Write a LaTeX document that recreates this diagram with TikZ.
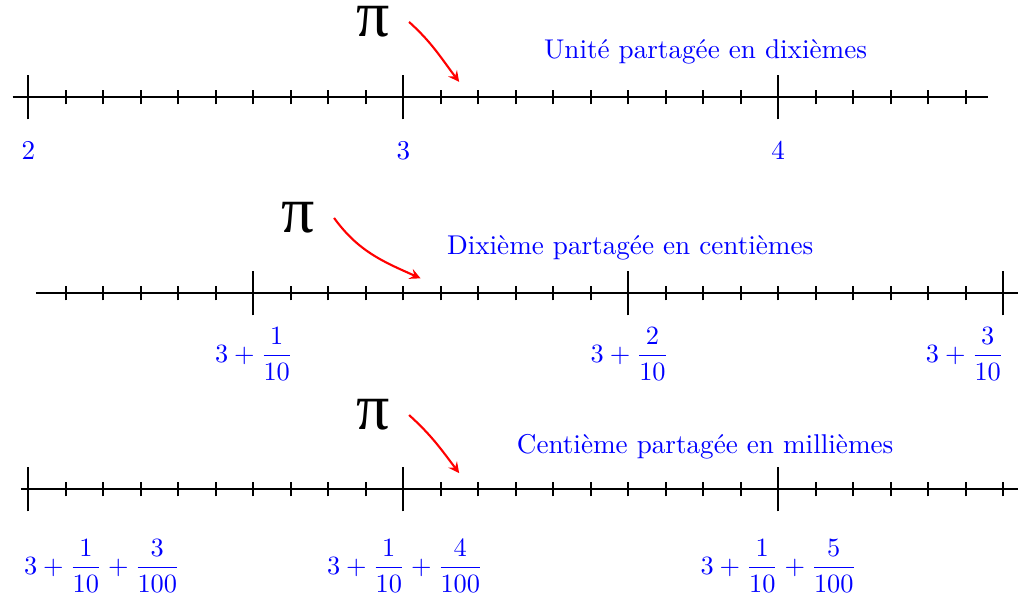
\documentclass[tikz,border=0pt]{standalone}
\usepackage{amsmath}
\usepackage{fontspec}
\newfontfamily\pifont{Liberation Serif}
\begin{document}
\begin{tikzpicture}[x=0.5cm, y=0.5cm, >=stealth, thick,
	lbl/.style={text=blue, font=\fontsize{10.3}{12}\selectfont},
	pibox/.style={font=\pifont\fontsize{25}{28}\selectfont, inner sep=1pt},
	fleche/.style={->, red, thick}]
	\useasboundingbox (-0.755,2.595) rectangle (26.74,-13.43);
	
	% 1. Unité partagée en dixièmes
	\draw (-0.42,0) -- (25.58,0);
	\foreach \k in {0,...,25} \draw (\k,-0.19) -- (\k,0.19);
	\foreach \k in {0,10,20} \draw (\k,-0.59) -- (\k,0.59);
	\node[lbl] (a2) at (0,-1.42) {2};
	\node[lbl] (a3) at (10,-1.42) {3};
	\node[lbl] (a4) at (20,-1.42) {4};
	\node[lbl] (ta) at (18.06,1.21) {Unité partagée en dixièmes};
	\node[pibox] (pia) at (9.19,2.01) {π};
	\coordinate (ca) at (11.49,0.41);
	\draw[fleche] ([xshift=6pt]pia.east) to[out=-42, in=127] (ca);
	
	% 2. Dixième partagée en centièmes
	\begin{scope}[yshift=-2.6135cm]
		\draw (0.2,0) -- (26.38,0);
		\foreach \k in {1,...,26} \draw (\k,-0.19) -- (\k,0.19);
		\foreach \k in {6,16,26} \draw (\k,-0.59) -- (\k,0.59);
		\node[lbl] (b1) at (6.02,-1.62) {$3+\dfrac{1}{10}$};
		\node[lbl] (b2) at (16.04,-1.62) {$3+\dfrac{2}{10}$};
		\node[lbl] (b3) at (24.98,-1.62) {$3+\dfrac{3}{10}$};
		\node[lbl] (tb) at (16.05,1.21) {Dixième partagée en centièmes};
		\node[pibox] (pib) at (7.19,2.01) {π};
		\coordinate (cb) at (10.46,0.40);
		\draw[fleche] ([xshift=6pt]pib.east) to[out=-54, in=156] (cb);
	\end{scope}
	
	% 3. Centième partagée en millièmes
	\begin{scope}[yshift=-5.2265cm]
		\draw (-0.2,0) -- (26.38,0);
		\foreach \k in {0,...,26} \draw (\k,-0.19) -- (\k,0.19);
		\foreach \k in {0,10,20} \draw (\k,-0.59) -- (\k,0.59);
		\node[lbl] (c1) at (1.97,-2.04) {$3+\dfrac{1}{10}+\dfrac{3}{100}$};
		\node[lbl] (c2) at (10.05,-2.04) {$3+\dfrac{1}{10}+\dfrac{4}{100}$};
		\node[lbl] (c3) at (20.01,-2.04) {$3+\dfrac{1}{10}+\dfrac{5}{100}$};
		\node[lbl] (tc) at (18.05,1.14) {Centième partagée en millièmes};
		\node[pibox] (pic) at (9.19,1.98) {π};
		\coordinate (cc) at (11.49,0.43);
		\draw[fleche] ([xshift=6pt]pic.east) to[out=-42, in=127] (cc);
	\end{scope}
\end{tikzpicture}
\end{document}
